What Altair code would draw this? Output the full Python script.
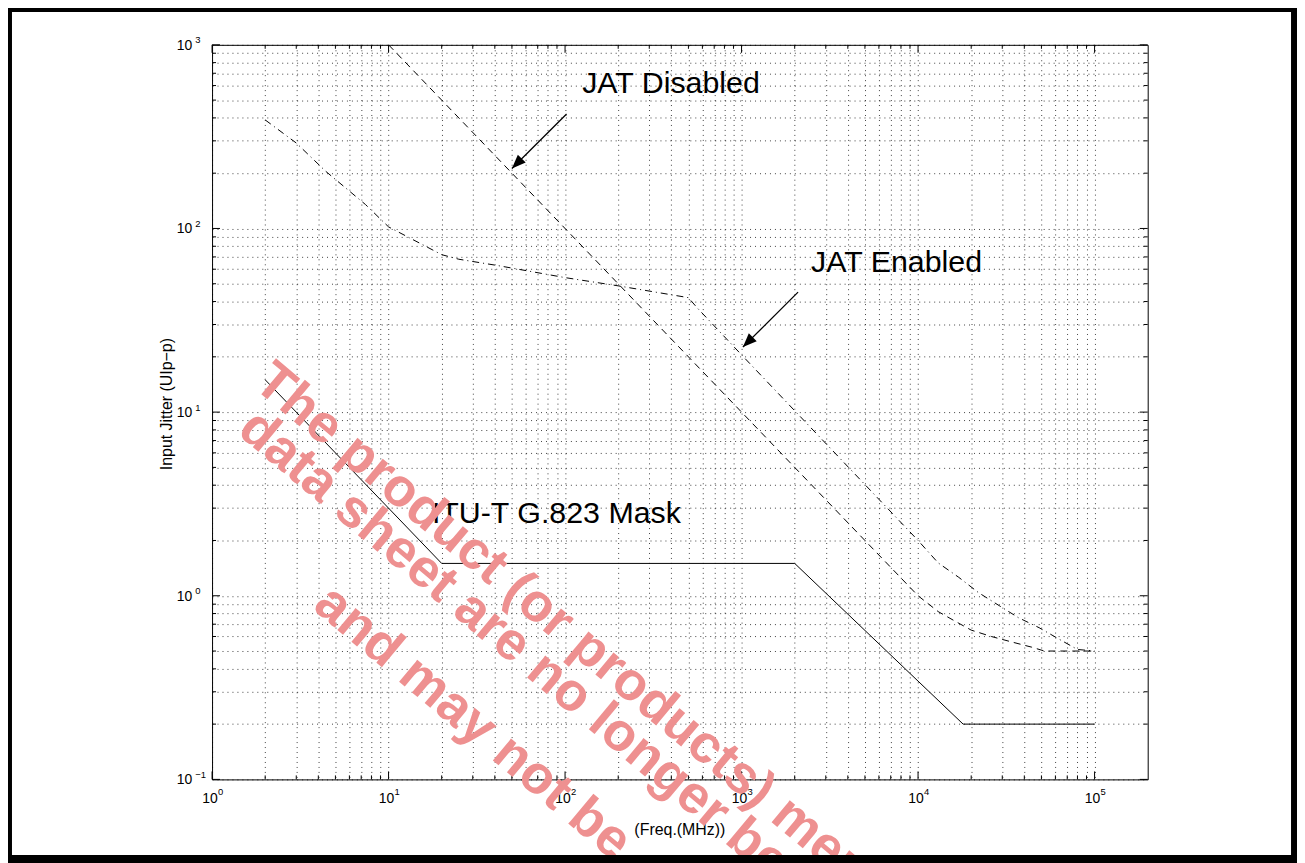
import altair as alt
import pandas as pd

# ---------------- data ----------------
mask_x = [2, 20, 2000, 18000, 100000]
mask_y = [15, 1.5, 1.5, 0.2, 0.2]

dis_x = [10, 10000, 13000, 16500, 20000, 26000, 34000, 44000, 52000, 100000]
dis_y = [1000, 1.0, 0.82, 0.72, 0.65, 0.6, 0.56, 0.525, 0.5, 0.5]

ena_x = [2, 3, 4.4, 7.4, 10, 20, 25, 42, 100, 200, 500, 560, 1000, 10000,
         13000, 17000, 22000, 29000, 37000, 48500, 63000, 80000, 100000]
ena_y = [390, 292, 205, 135, 102, 72, 68, 62.7, 54, 48.7, 42, 37, 20.5, 2.0,
         1.51, 1.26, 1.04, 0.88, 0.76, 0.67, 0.58, 0.51, 0.5]

x_decades = [1, 10, 100, 1000, 10000, 100000]
x_exp = ["0", "1", "2", "3", "4", "5"]
y_decades = [0.1, 1, 10, 100, 1000]
y_exp = ["\u22121", "0", "1", "2", "3"]

x_minor = [m * d for d in [1, 10, 100, 1000, 10000] for m in range(2, 10)]
y_minor = [m * d for d in [0.1, 1, 10, 100] for m in range(2, 10)]

annotations = ["JAT Disabled", "JAT Enabled", "ITU-T G.823 Mask"]
ann_x = [125, 2477, 17.6]
ann_y = [615, 65, 2.77]

arrow_start_x = [102, 2090]
arrow_start_y = [420, 45]
arrow_tip_x = [50, 1018]
arrow_tip_y = [212, 22.6]

x_title = "(Freq.(MHz))"
y_title = "Input Jitter (UIp\u2212p)"
watermark = ["The product (or products) mentioned in this",
             "data sheet are no longer being manufactured",
             "and may not be currently available"]

# ---------------- layout ----------------
W, H = 940, 738
FONT = "Liberation Sans"
xs = alt.Scale(type="log", domain=[1, 200000], nice=False, zero=False)
ys = alt.Scale(type="log", domain=[0.1, 1000], nice=False, zero=False)

gx = sorted(set(x_decades + x_minor))
gy = sorted(set(y_decades + y_minor))
ax_x = alt.Axis(values=gx, grid=True, labels=False, ticks=False, domain=False, title=None,
                gridDash=[1, 4], gridColor="black", gridOpacity=0.75, gridWidth=1)
ax_y = alt.Axis(values=gy, grid=True, labels=False, ticks=False, domain=False, title=None,
                gridDash=[1, 4], gridColor="black", gridOpacity=0.75, gridWidth=1)


def X(f):
    return alt.X(f, type="quantitative", scale=xs, axis=ax_x)


def Y(f):
    return alt.Y(f, type="quantitative", scale=ys, axis=ax_y)


one = alt.Data(values=[{"a": 1}])

layers = []

# series lines
def series(xv, yv, dash):
    df = pd.DataFrame({"x": xv, "y": yv, "o": range(len(xv))})
    props = dict(color="black", strokeWidth=1, clip=True)
    if dash:
        props["strokeDash"] = dash
    return alt.Chart(df).mark_line(**props).encode(x=X("x"), y=Y("y"), order="o:Q")

layers.append(series(mask_x, mask_y, None))
layers.append(series(dis_x, dis_y, [7, 5]))
layers.append(series(ena_x, ena_y, [7, 4, 1, 4]))

# ticks (inward, all four sides)
txmaj = pd.DataFrame({"v": x_decades})
txmin = pd.DataFrame({"v": x_minor})
tymaj = pd.DataFrame({"v": y_decades})
tymin = pd.DataFrame({"v": y_minor})
for df, L in [(txmaj, 8), (txmin, 4)]:
    layers.append(alt.Chart(df).mark_rule(color="black", strokeWidth=1).encode(
        x=X("v"), y=alt.value(H), y2=alt.value(H - L)))
    layers.append(alt.Chart(df).mark_rule(color="black", strokeWidth=1).encode(
        x=X("v"), y=alt.value(0), y2=alt.value(L)))
for df, L in [(tymaj, 8), (tymin, 4)]:
    layers.append(alt.Chart(df).mark_rule(color="black", strokeWidth=1).encode(
        y=Y("v"), x=alt.value(0), x2=alt.value(L)))
    layers.append(alt.Chart(df).mark_rule(color="black", strokeWidth=1).encode(
        y=Y("v"), x=alt.value(W), x2=alt.value(W - L)))

# tick labels
xl = pd.DataFrame({"v": x_decades, "e": x_exp})
yl = pd.DataFrame({"v": y_decades, "e": y_exp})
layers.append(alt.Chart(xl).mark_text(text="10", font=FONT, fontSize=14, align="center",
                                      baseline="alphabetic", dx=-2).encode(
    x=X("v"), y=alt.value(H + 24)))
layers.append(alt.Chart(xl).mark_text(font=FONT, fontSize=9.5, align="left",
                                      baseline="alphabetic", dx=6).encode(
    x=X("v"), y=alt.value(H + 16), text="e:N"))
layers.append(alt.Chart(yl).mark_text(text="10", font=FONT, fontSize=14, align="right",
                                      baseline="alphabetic", dy=5).encode(
    y=Y("v"), x=alt.value(-20)))
layers.append(alt.Chart(yl).mark_text(font=FONT, fontSize=9.5, align="left",
                                      baseline="alphabetic", dy=-1.5).encode(
    y=Y("v"), x=alt.value(-17), text="e:N"))

# axis titles
layers.append(alt.Chart(one).mark_text(text=x_title, font=FONT, fontSize=16, align="center",
                                       baseline="middle").encode(
    x=alt.value(W / 2), y=alt.value(H + 51)))
layers.append(alt.Chart(one).mark_text(text=y_title, font=FONT, fontSize=16, align="center",
                                       baseline="middle", angle=270).encode(
    x=alt.value(-45), y=alt.value(H / 2 - 8)))

# annotations
ann = pd.DataFrame({"x": ann_x, "y": ann_y, "t": annotations})
layers.append(alt.Chart(ann).mark_text(font=FONT, fontSize=30.5, align="left",
                                       baseline="middle", color="black").encode(
    x=X("x"), y=Y("y"), text="t:N"))

# arrows
arr = pd.DataFrame({"x": arrow_start_x, "y": arrow_start_y,
                    "x2": arrow_tip_x, "y2": arrow_tip_y})
layers.append(alt.Chart(arr).mark_rule(color="black", strokeWidth=1.3).encode(
    x=X("x"), y=Y("y"), x2="x2", y2="y2"))
layers.append(alt.Chart(arr).mark_point(shape="M0,0L-0.4,1L0.4,1Z", size=784, angle=225,
                                        filled=True, color="black", opacity=1,
                                        strokeWidth=0).encode(
    x=X("x2"), y=Y("y2")))

# watermark
wm_color = "#EE9090"
wm_pos = [(40, 343), (24, 390), (100, 566)]
for t, (px, py) in zip(watermark, wm_pos):
    layers.append(alt.Chart(one).mark_text(text=t, font=FONT, fontWeight="bold", fontSize=54,
                                           align="left", baseline="alphabetic", angle=40,
                                           color=wm_color).encode(
        x=alt.value(px), y=alt.value(py)))

# outer frame (page border)
for (x1, x2, y1, y2) in [(-209, 1089, -39, -33), (-209, 1089, 814, 830),
                         (-209, -201, -39, 830), (1084, 1095, -39, 830)]:
    layers.append(alt.Chart(one).mark_rect(color="black").encode(
        x=alt.value(x1), x2=alt.value(x2), y=alt.value(y1), y2=alt.value(y2)))

chart = alt.layer(*layers).properties(
    width=W, height=H,
    autosize=alt.AutoSizeParams(type="none"),
    padding={"left": 205, "top": 35, "right": 1295 - 205 - W, "bottom": 855 - 35 - H},
    background="white",
).configure_view(stroke="black", strokeWidth=1)

chart.save("out.html", embed_options={"renderer": "svg", "actions": False})
